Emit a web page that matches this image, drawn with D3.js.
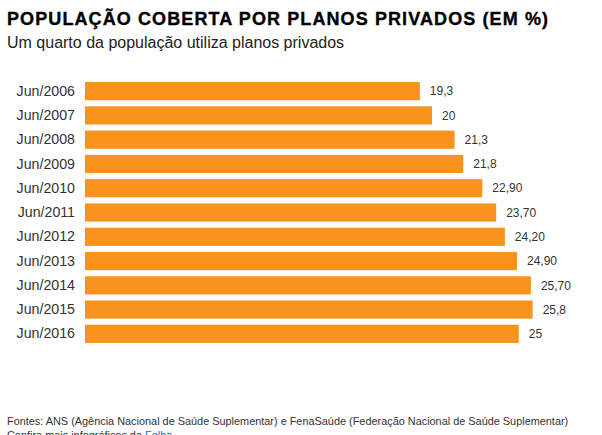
<!DOCTYPE html>
<html><head><meta charset="utf-8">
<script src="https://cdn.jsdelivr.net/npm/d3@7"></script>
<style>body{margin:0;background:#fff;overflow:hidden}svg{display:block}</style>
</head><body>
<script>
const categories = ["Jun/2006","Jun/2007","Jun/2008","Jun/2009","Jun/2010","Jun/2011","Jun/2012","Jun/2013","Jun/2014","Jun/2015","Jun/2016"];
const values = [19.3,20,21.3,21.8,22.9,23.7,24.2,24.9,25.7,25.8,25];
const valueLabels = ["19,3","20","21,3","21,8","22,90","23,70","24,20","24,90","25,70","25,8","25"];

const W=602,H=435;
const font="Arial, Liberation Sans, sans-serif";
const svg=d3.select("body").append("svg").attr("width",W).attr("height",H);
svg.append("text").attr("x",7).attr("y",25).attr("font-family",font)
  .attr("font-weight","bold").attr("font-size",18).attr("letter-spacing",1.1)
  .attr("fill","#000").attr("stroke","#000").attr("stroke-width",0.35)
  .text("POPULAÇÃO COBERTA POR PLANOS PRIVADOS (EM %)");
svg.append("text").attr("x",7).attr("y",48).attr("font-family",font)
  .attr("font-size",16).attr("fill","#222").text("Um quarto da população utiliza planos privados");

const x=d3.scaleLinear().domain([0,26]).range([85,85+26*17.35]);
const y=d3.scaleBand().domain(categories).range([79,346]).paddingInner(0.25).paddingOuter(0.125);

const g=svg.append("g");
g.selectAll("rect").data(values).join("rect")
  .attr("x",x(0)).attr("y",(d,i)=>y(categories[i]))
  .attr("width",d=>x(d)-x(0)).attr("height",y.bandwidth()).attr("fill","#f7931e");
g.selectAll("text.v").data(values).join("text").attr("class","v")
  .attr("x",d=>x(d)+10).attr("y",(d,i)=>y(categories[i])+y.bandwidth()/2).attr("dy","0.35em")
  .attr("font-family",font).attr("font-size",12).attr("fill","#333")
  .text((d,i)=>valueLabels[i]);

const ax=svg.append("g").attr("transform","translate(75,0)").call(d3.axisLeft(y).tickSize(0).tickPadding(0));
ax.select(".domain").remove();
ax.selectAll("text").attr("font-family",font).attr("font-size",14.2).attr("fill","#333");

svg.append("text").attr("x",7).attr("y",425).attr("font-family",font)
  .attr("font-size",10.9).attr("fill","#333").text("Fontes: ANS (Agência Nacional de Saúde Suplementar) e FenaSaúde (Federação Nacional de Saúde Suplementar)");
const t2=svg.append("text").attr("x",7).attr("y",439).attr("font-family",font)
  .attr("font-size",10.9).attr("fill","#333");
t2.append("tspan").text("Confira mais infográficos da ");
t2.append("tspan").attr("fill","#1a6eb5").text("Folha");
</script>
</body></html>
